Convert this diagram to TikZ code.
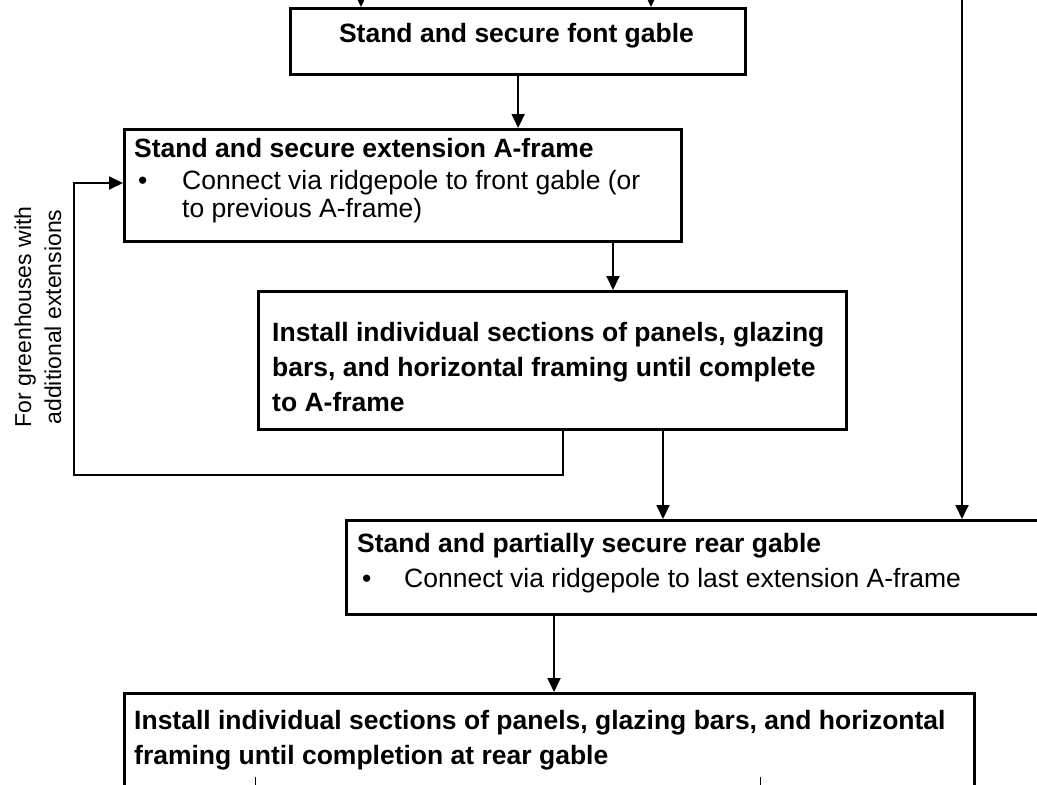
\documentclass[tikz,border=0pt]{standalone}
\usepackage{fontspec}
\setmainfont{Liberation Sans}
\usetikzlibrary{arrows.meta}
\tikzset{
  boxnode/.style={draw, line width=3.3pt, inner sep=0pt, anchor=north west},
  arr/.style={line width=1.8pt, -{Triangle[width=13pt,length=14pt]}},
  ttl/.style={font=\fontsize{26.5}{35}\selectfont\bfseries, inner sep=0pt, anchor=base west},
  txt/.style={font=\fontsize{26.5}{35}\selectfont, inner sep=0pt, anchor=base west},
}
\begin{document}
\begin{tikzpicture}[x=1pt,y=-1pt]
\useasboundingbox (0,0) rectangle (1037,785);
\clip (0,0) rectangle (1037,785);
% boxes
\node[boxnode, minimum width=455pt, minimum height=66pt] (b1) at (289,7) {};
\node[boxnode, minimum width=557pt, minimum height=112pt] (b2) at (123,128) {};
\node[boxnode, minimum width=588pt, minimum height=138pt] (b3) at (257,290) {};
\node[boxnode, minimum width=720pt, minimum height=94pt] (b4) at (345,519) {};
\node[boxnode, minimum width=850pt, minimum height=140pt] (b5) at (123,692) {};
% texts
\node[ttl, anchor=base] (t1) at (516.5,42) {Stand and secure font gable};
\node[ttl] (t2a) at (134,157) {Stand and secure extension A-frame};
\node[txt] (t2bul) at (138,189) {•};
\node[txt] (t2b) at (182,189) {Connect via ridgepole to front gable (or};
\node[txt] (t2c) at (182,217) {to previous A-frame)};
\node[ttl] (t3a) at (272,341) {Install individual sections of panels, glazing};
\node[ttl] (t3b) at (272,376) {bars, and horizontal framing until complete};
\node[ttl] (t3c) at (272,411) {to A-frame};
\node[ttl] (t4a) at (357,552) {Stand and partially secure rear gable};
\node[txt] (t4bul) at (362,587) {•};
\node[txt] (t4b) at (404,587) {Connect via ridgepole to last extension A-frame};
\node[ttl] (t5a) at (134,729) {Install individual sections of panels, glazing bars, and horizontal};
\node[ttl] (t5b) at (134,764) {framing until completion at rear gable};
\node[rotate=90, align=center, inner sep=0pt, font=\fontsize{23}{30}\selectfont] (lbl) at (38,317) {For greenhouses with\\additional extensions};
% coordinates for connectors
\coordinate (in1) at (361,0);
\coordinate (in2) at (651,0);
\coordinate (rtop) at (962,0);
\coordinate (x23) at (613,0);
\coordinate (x34) at (663,0);
\coordinate (xfb) at (563,0);
\coordinate (x45) at (554,0);
\coordinate (loopbl) at (74,475);
\coordinate (loopin) at (0,183);
\coordinate (tk1) at (255,777);
\coordinate (tk2) at (760,777);
% connectors
\draw[arr] (in1) -- (in1 |- b1.north);
\draw[arr] (in2) -- (in2 |- b1.north);
\draw[arr] (b1.south) -- (b1.south |- b2.north);
\draw[arr] (x23 |- b2.south) -- (x23 |- b3.north);
\draw[arr] (x34 |- b3.south) -- (x34 |- b4.north);
\draw[arr] (xfb |- b3.south) -- (xfb |- loopbl) -- (loopbl) -- (loopbl |- loopin) -- (b2.west |- loopin);
\draw[arr] (rtop) -- (rtop |- b4.north);
\draw[arr] (x45 |- b4.south) -- (x45 |- b5.north);
\draw[line width=1pt] (tk1) -- ++(0,10);
\draw[line width=1pt] (tk2) -- ++(0,10);
\end{tikzpicture}
\end{document}
